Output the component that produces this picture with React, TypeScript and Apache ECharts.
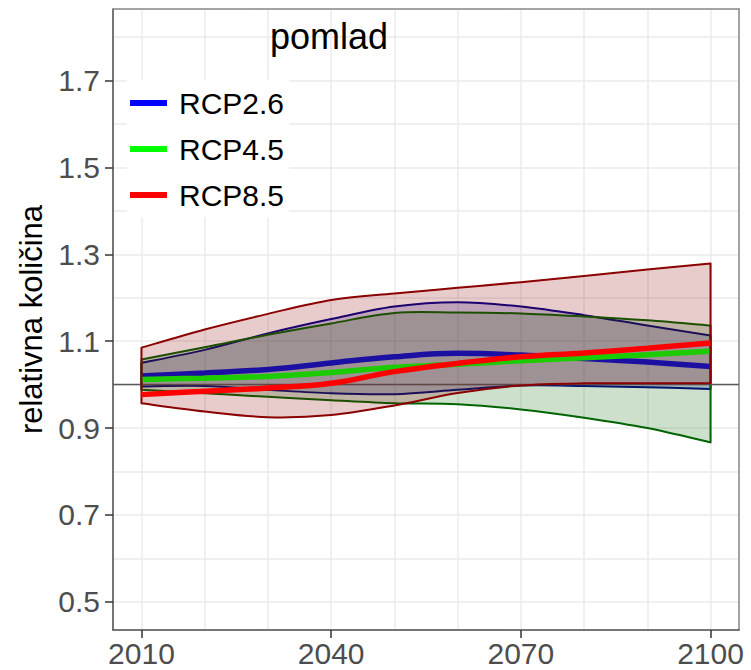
import React, { useEffect, useRef } from "react";
import * as echarts from "echarts";

const FONT = "'Liberation Sans', Arial, sans-serif";

const YEARS = [2010, 2020, 2030, 2040, 2050, 2060, 2070, 2080, 2090, 2100];
const X_LABEL_YEARS = [2010, 2040, 2070, 2100];
const Y_LABEL_VALUES = [0.5, 0.7, 0.9, 1.1, 1.3, 1.5, 1.7];
const SCENARIOS = ["RCP2.6", "RCP4.5", "RCP8.5"];
const PANEL_TITLE = "pomlad";
const Y_TITLE = "relativna količina";
const REFERENCE_LEVEL = 1.0;

const RCP26_HIGH = [1.05, 1.08, 1.118, 1.151, 1.18, 1.19, 1.18, 1.16, 1.136, 1.113];
const RCP26_LOW = [0.996, 0.997, 0.988, 0.98, 0.978, 0.988, 0.998, 0.997, 0.994, 0.99];
const RCP26_MEDIAN = [1.02, 1.027, 1.035, 1.05, 1.064, 1.072, 1.068, 1.06, 1.052, 1.042];

const RCP45_HIGH = [1.058, 1.086, 1.115, 1.141, 1.165, 1.166, 1.164, 1.157, 1.148, 1.136];
const RCP45_LOW = [0.988, 0.98, 0.972, 0.964, 0.957, 0.955, 0.943, 0.924, 0.9, 0.867];
const RCP45_MEDIAN = [1.012, 1.015, 1.019, 1.028, 1.04, 1.047, 1.055, 1.062, 1.069, 1.077];

const RCP85_HIGH = [1.085, 1.127, 1.163, 1.195, 1.21, 1.223, 1.236, 1.25, 1.265, 1.279];
const RCP85_LOW = [0.957, 0.938, 0.925, 0.93, 0.952, 0.981, 0.998, 1.003, 1.003, 1.003];
const RCP85_MEDIAN = [0.977, 0.985, 0.992, 1.003, 1.03, 1.049, 1.064, 1.073, 1.084, 1.096];

const X_MIN = 2005.5;
const X_MAX = 2104.5;
const Y_MIN = 0.435;
const Y_MAX = 1.865;

function spline(p: number[][]): string {
  let s = "";
  const n = p.length;
  for (let i = 0; i < n - 1; i++) {
    const p0 = p[Math.max(0, i - 1)];
    const p1 = p[i];
    const p2 = p[i + 1];
    const p3 = p[Math.min(n - 1, i + 2)];
    const c1x = p1[0] + (p2[0] - p0[0]) / 6;
    const c1y = p1[1] + (p2[1] - p0[1]) / 6;
    const c2x = p2[0] - (p3[0] - p1[0]) / 6;
    const c2y = p2[1] - (p3[1] - p1[1]) / 6;
    s += `C${c1x},${c1y} ${c2x},${c2y} ${p2[0]},${p2[1]}`;
  }
  return s;
}

function ribbon(name: string, lo: number[], hi: number[], stroke: string, fill: string, z: number) {
  return {
    type: "custom",
    name,
    z,
    silent: true,
    xAxisIndex: 0,
    yAxisIndex: 0,
    data: YEARS.map((y, i) => [y, lo[i], hi[i]]),
    encode: { x: 0, y: [1, 2] },
    renderItem: (params: any, api: any) => {
      if (params.dataIndex !== 0) return null;
      const up = YEARS.map((y, i) => api.coord([y, hi[i]]));
      const dn = YEARS.map((y, i) => api.coord([y, lo[i]])).reverse();
      const d = `M${up[0][0]},${up[0][1]}` + spline(up) + `L${dn[0][0]},${dn[0][1]}` + spline(dn) + "Z";
      return {
        type: "path",
        shape: { pathData: d },
        style: { fill, stroke, lineWidth: 2, lineJoin: "round" },
      };
    },
  };
}

function median(name: string, vals: number[], color: string, z: number) {
  return {
    type: "line",
    name,
    z,
    data: YEARS.map((y, i) => [y, vals[i]]),
    smooth: 0.4,
    symbol: "none",
    showSymbol: false,
    color,
    lineStyle: { width: 5.5, color },
    xAxisIndex: 0,
    yAxisIndex: 0,
  };
}

export default function App() {
  const ref = useRef<HTMLDivElement>(null);
  useEffect(() => {
    const chart = echarts.init(ref.current!, null, { renderer: "svg" });
    const hidden = {
      axisLine: { show: false },
      axisTick: { show: false },
      axisLabel: { show: false },
    };
    const borderOnly = {
      axisLine: { show: true, onZero: false, lineStyle: { color: "#8a8a8a", width: 1.5 } },
      axisTick: { show: false },
      axisLabel: { show: false },
      splitLine: { show: false },
    };
    chart.setOption({
      animation: false,
      backgroundColor: "#ffffff",
      textStyle: { fontFamily: FONT },
      grid: {
        left: 113,
        top: 9,
        right: 12,
        bottom: 40,
        show: false,
      },
      legend: {
        data: SCENARIOS,
        orient: "vertical",
        left: 127,
        top: 80,
        padding: [8, 5, 7, 3],
        itemGap: 16,
        itemWidth: 37,
        itemHeight: 6,
        icon: "rect",
        backgroundColor: "#ffffff",
        selectedMode: false,
        textStyle: { fontSize: 30, color: "#000", fontFamily: FONT, padding: [0, 0, 0, 7] },
      },
      xAxis: [
        {
          type: "value",
          min: X_MIN,
          max: X_MAX,
          splitNumber: 10,
          position: "bottom",
          ...hidden,
          splitLine: { show: true, lineStyle: { color: "#ebebeb", width: 1.5 } },
        },
        {
          type: "value",
          min: X_MIN,
          max: X_MAX,
          splitNumber: 3,
          position: "bottom",
          axisLine: { show: true, onZero: false, lineStyle: { color: "#4d4d4d", width: 1.5 } },
          axisTick: { show: true, customValues: X_LABEL_YEARS, length: 8, lineStyle: { color: "#333", width: 1.5 } },
          axisLabel: {
            customValues: X_LABEL_YEARS,
            fontSize: 30,
            color: "#4d4d4d",
            margin: 8,
            fontFamily: FONT,
            formatter: (v: number) => String(v),
          },
          splitLine: { show: false },
        },
        { type: "value", min: X_MIN, max: X_MAX, position: "top", ...borderOnly },
      ],
      yAxis: [
        {
          type: "value",
          min: Y_MIN,
          max: Y_MAX,
          splitNumber: 14,
          position: "left",
          ...hidden,
          splitLine: { show: true, lineStyle: { color: "#ebebeb", width: 1.5 } },
        },
        {
          type: "value",
          min: Y_MIN,
          max: Y_MAX,
          position: "left",
          axisLine: { show: true, onZero: false, lineStyle: { color: "#4d4d4d", width: 1.5 } },
          axisTick: { show: true, customValues: Y_LABEL_VALUES, length: 8, lineStyle: { color: "#333", width: 1.5 } },
          axisLabel: {
            customValues: Y_LABEL_VALUES,
            fontSize: 30,
            color: "#4d4d4d",
            margin: 13,
            fontFamily: FONT,
            formatter: (v: number) => v.toFixed(1),
          },
          splitLine: { show: false },
          name: Y_TITLE,
          nameLocation: "middle",
          nameGap: 66,
          nameRotate: 90,
          nameTextStyle: { fontSize: 31, color: "#000", fontFamily: FONT },
        },
        { type: "value", min: Y_MIN, max: Y_MAX, position: "right", ...borderOnly },
      ],
      graphic: [
        {
          type: "text",
          left: 270,
          top: 18,
          z: 100,
          style: { text: PANEL_TITLE, fontSize: 36, fill: "#000", fontFamily: FONT },
        },
      ],
      series: [
        ribbon("band26", RCP26_LOW, RCP26_HIGH, "#00008b", "rgba(0,0,139,0.2)", 2),
        median(SCENARIOS[0], RCP26_MEDIAN, "#0000ff", 3),
        ribbon("band45", RCP45_LOW, RCP45_HIGH, "#006400", "rgba(0,100,0,0.2)", 4),
        median(SCENARIOS[1], RCP45_MEDIAN, "#00ff00", 5),
        ribbon("band85", RCP85_LOW, RCP85_HIGH, "#8b0000", "rgba(139,0,0,0.2)", 6),
        {
          type: "line",
          name: "ref",
          z: 7,
          data: [],
          xAxisIndex: 0,
          yAxisIndex: 0,
          markLine: {
            silent: true,
            symbol: ["none", "none"],
            label: { show: false },
            lineStyle: { color: "#595959", width: 1.3, type: "solid" },
            data: [{ yAxis: REFERENCE_LEVEL }],
          },
        },
        median(SCENARIOS[2], RCP85_MEDIAN, "#ff0000", 8),
      ],
    });
    return () => chart.dispose();
  }, []);
  return (
    <div
      ref={ref}
      style={{ position: "absolute", left: 0, top: 0, width: 751, height: 670 }}
    />
  );
}
